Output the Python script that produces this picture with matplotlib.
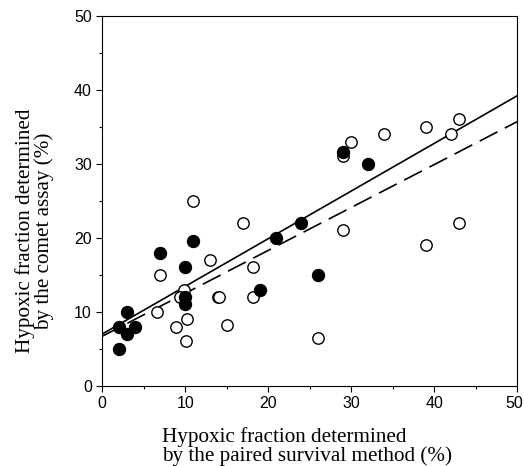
import matplotlib.pyplot as plt
import matplotlib.transforms as mtransforms
import numpy as np

# open circles
open_x = [11, 13, 7, 9.8, 9.4, 6.6, 8.9, 10.2, 10.1, 14, 17, 18.2, 14.1, 18.2, 15, 26,
          29, 30, 34, 39, 42, 43, 29, 39, 43]
open_y = [25, 17, 15, 13, 12, 10, 8, 9, 6, 12, 22, 16, 12, 12, 8.2, 6.5,
          31, 33, 34, 35, 34, 36, 21, 19, 22]

# filled circles
filled_x = [2, 2, 3, 3, 4, 7, 10, 10, 10, 11, 19, 21, 24, 26, 29, 32]
filled_y = [5, 8, 10, 7, 8, 18, 16, 12, 11, 19.6, 13, 20, 22, 15, 31.6, 30]

# regression lines (intercept, slope)
solid_fit = (7.0, 0.644)
dashed_fit = (6.7, 0.58)

fig = plt.figure(figsize=(5.24, 4.66), dpi=100)
ax = fig.add_axes([0.195, 0.172, 0.792, 0.794])

xs = np.array([0, 50])
ax.plot(xs, solid_fit[0] + solid_fit[1] * xs, color='black', lw=1.2, zorder=2)
ax.plot(xs, dashed_fit[0] + dashed_fit[1] * xs, color='black', lw=1.2,
        dashes=(12, 5), zorder=2)

ax.plot(open_x, open_y, 'o', ms=8.2, mfc='white', mec='black', mew=1.0, zorder=3)
ax.plot(filled_x, filled_y, 'o', ms=8.6, mfc='black', mec='black', zorder=4)

ax.set_xlim(0, 50)
ax.set_ylim(0, 50)
ax.set_xticks([0, 10, 20, 30, 40, 50])
ax.set_yticks([0, 10, 20, 30, 40, 50])
ax.set_xticks(np.arange(5, 50, 10), minor=True)
ax.set_yticks(np.arange(5, 50, 10), minor=True)
ax.tick_params(which='major', direction='out', length=4, width=0.8)
ax.tick_params(which='minor', direction='out', length=2.5, width=0.8)
for lab in ax.get_xticklabels() + ax.get_yticklabels():
    lab.set_fontfamily('Liberation Sans')
    lab.set_fontsize(11.5)

# keep the last x tick label inside the figure
last = ax.get_xticklabels()[-1]
last.set_transform(last.get_transform() +
                   mtransforms.ScaledTranslation(-3 / 100, 0, fig.dpi_scale_trans))

# axis titles placed as figure text (two-line, serif)
fig.text(162 / 524, 1 - 447 / 466,
         'Hypoxic fraction determined\nby the paired survival method (%)',
         family='Liberation Serif', fontsize=15.2, linespacing=0.95,
         ha='left', va='center', multialignment='left')
fig.text(35 / 524, 1 - 231 / 466,
         'Hypoxic fraction determined\nby the comet assay (%)',
         family='Liberation Serif', fontsize=15.2, linespacing=0.95,
         rotation=90, ha='center', va='center', multialignment='center')

plt.savefig('out.png', dpi=100)
